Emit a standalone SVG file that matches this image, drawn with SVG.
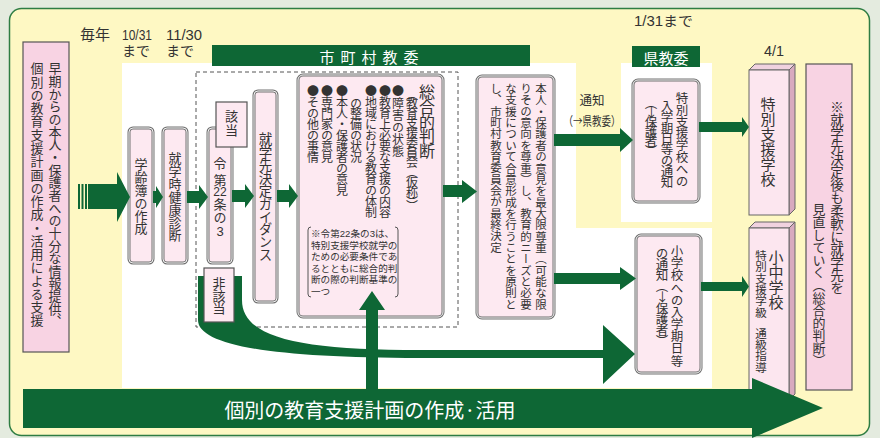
<svg xmlns="http://www.w3.org/2000/svg" width="880" height="438" viewBox="0 0 880 438">
<defs>
<style>
.v{writing-mode:vertical-rl;font-family:"Noto Sans CJK JP","Noto Sans",sans-serif;fill:#333}
.h{font-family:"Liberation Sans","Noto Sans CJK JP",sans-serif;fill:#333;dominant-baseline:central}
.w{font-family:"Noto Sans CJK JP","Noto Sans",sans-serif;fill:#fff;dominant-baseline:central;text-anchor:middle}
.g{fill:#0e6735}
.bx{fill:#fde9f1;stroke:#727272;stroke-width:3}
.bxi{fill:none;stroke:#fff;stroke-width:0.9}
.sq{fill:#fde9f1;stroke:#555;stroke-width:1.2}
.pk{fill:#f8d3e3;stroke:#555;stroke-width:1.2}
.fr{fill:#fce6ef;stroke:#666;stroke-width:1}
.sd{fill:#d8aabf;stroke:#666;stroke-width:1}
.tp{fill:#f0d2df;stroke:#666;stroke-width:1}
</style>
</defs>
<rect width="880" height="438" fill="#e4ebdf"/>
<rect x="9.5" y="8.5" width="860" height="427" rx="12" fill="#fef8c3" stroke="#2e7d43" stroke-width="1.5"/>
<g id="panels">
<rect x="122" y="63" width="454" height="325" fill="#fff"/>
<rect x="621" y="63" width="91" height="159" fill="#fff"/>
<rect x="560" y="228" width="152" height="160" fill="#fff"/>
<rect x="212" y="45" width="318" height="21" class="g"/>
<text class="w" x="372" y="56" font-size="15" letter-spacing="6">市町村教委</text>
<rect x="632" y="46" width="68" height="21" class="g"/>
<text class="w" x="666" y="57" font-size="15">県教委</text>
<text class="h" x="80" y="34" font-size="15">毎年</text>
<text class="h" font-size="14"><tspan x="122" y="34" font-size="15" textLength="30" lengthAdjust="spacingAndGlyphs">10/31</tspan><tspan x="122" y="51">まで</tspan></text>
<text class="h" font-size="14"><tspan x="166" y="34" font-size="15" textLength="36" lengthAdjust="spacingAndGlyphs">11/30</tspan><tspan x="166" y="51">まで</tspan></text>
<text class="h" x="634" y="21" font-size="14" textLength="59" lengthAdjust="spacingAndGlyphs">1/31まで</text>
<text class="h" x="764" y="50" font-size="15" textLength="20" lengthAdjust="spacingAndGlyphs">4/1</text>
<rect x="196" y="72" width="262" height="255" fill="none" stroke="#555" stroke-width="1" stroke-dasharray="4 3"/>
</g>
<g id="early">
<rect x="23" y="42" width="46" height="310" class="pk"/>
<text class="v" x="55" y="62" font-size="13" textLength="266">早期からの本人・保護者への十分な情報提供、</text>
<text class="v" x="37" y="62" font-size="13" textLength="265">個別の教育支援計画の作成・活用による支援</text>
</g>
<g id="gakureibo">
<rect x="129" y="128" width="24" height="135" rx="4" class="bx"/><rect x="129" y="128" width="24" height="135" rx="4" class="bxi"/>
<text class="v" x="141" y="158" font-size="13" textLength="77">学齢簿の作成</text>
</g>
<g id="kenko">
<rect x="163" y="128" width="24" height="135" rx="4" class="bx"/><rect x="163" y="128" width="24" height="135" rx="4" class="bxi"/>
<text class="v" x="175" y="152" font-size="13" textLength="90">就学時健康診断</text>
</g>
<g id="rei22">
<rect x="208" y="128" width="24" height="135" rx="4" class="bx"/><rect x="208" y="128" width="24" height="135" rx="4" class="bxi"/>
<text class="v" x="220" y="157" font-size="13" textLength="30">令第</text>
<text class="h" x="220" y="192" font-size="12" text-anchor="middle">22</text>
<text class="v" x="220" y="198" font-size="13" textLength="26">条の</text>
<text class="h" x="220" y="231" font-size="13" text-anchor="middle">3</text>
</g>
<g id="gaitou">
<rect x="216" y="102" width="31" height="45" class="sq"/>
<text class="v" x="231.5" y="110" font-size="13" textLength="27">該当</text>
</g>
<g id="guidance">
<rect x="254" y="91" width="23" height="211" rx="4" class="bx"/><rect x="254" y="91" width="23" height="211" rx="4" class="bxi"/>
<text class="v" x="265.5" y="132" font-size="13.5" textLength="130">就学先決定ガイダンス</text>
</g>
<g id="sogo">
<rect x="298" y="75" width="145" height="242" rx="5" class="bx"/><rect x="298" y="75" width="145" height="242" rx="5" class="bxi"/>
<text class="v" x="427" y="84" font-size="16" textLength="75">総合的判断</text>
<text class="v" x="412" y="88" font-size="12" textLength="124">（教育支援委員会（仮称））</text>
<text class="v" x="398" y="85" font-size="12" textLength="72">●障害の状態</text>
<text class="v" x="385" y="85" font-size="12" textLength="133">●教育上必要な支援の内容</text>
<text class="v" x="371" y="85" font-size="12" textLength="133">●地域における教育の体制</text>
<text class="v" x="356" y="97" font-size="12" textLength="66">の整備の状況</text>
<text class="v" x="342" y="85" font-size="12" textLength="111">●本人・保護者の意見</text>
<text class="v" x="327" y="85" font-size="12" textLength="78">●専門家の意見</text>
<text class="v" x="313" y="85" font-size="12" textLength="78">●その他の事情</text>
<path d="M311,227 q-3,0 -3,3 v64 q0,3 3,3 M395,227 q3,0 3,3 v64 q0,3 -3,3" fill="none" stroke="#555" stroke-width="1"/>
<text class="h" font-size="9.6"><tspan x="311" y="233">※令第22条の3は、</tspan><tspan x="311" y="244.5">特別支援学校就学の</tspan><tspan x="311" y="256">ための必要条件であ</tspan><tspan x="311" y="267.5">るとともに総合的判</tspan><tspan x="311" y="279">断の際の判断基準の</tspan><tspan x="311" y="290.5">一つ</tspan></text>
</g>
<g id="honnin">
<rect x="477" y="76" width="77" height="242" rx="5" class="bx"/><rect x="477" y="76" width="77" height="242" rx="5" class="bxi"/>
<text class="v" x="541" y="83" font-size="11.5" textLength="227">本人・保護者の意見を最大限尊重（可能な限</text>
<text class="v" x="526" y="83" font-size="11.5" textLength="227">りその意向を尊重）し、教育的ニーズと必要</text>
<text class="v" x="511" y="83" font-size="11.5" textLength="227">な支援について合意形成を行うことを原則と</text>
<text class="v" x="496" y="83" font-size="11.5" textLength="170">し、市町村教育委員会が最終決定</text>
</g>
<g id="tsuchi-tokubetsu">
<rect x="633" y="80" width="66" height="122" rx="5" class="bx"/><rect x="633" y="80" width="66" height="122" rx="5" class="bxi"/>
<text class="v" x="682" y="92" font-size="12.5" textLength="95">特別支援学校への</text>
<text class="v" x="667" y="100" font-size="12.5" textLength="88">入学期日等の通知</text>
<text class="v" x="651" y="97" font-size="12.5" textLength="60">（→保護者）</text>
</g>
<g id="tsuchi-shogakko">
<rect x="636" y="235" width="65" height="138" rx="5" class="bx"/><rect x="636" y="235" width="65" height="138" rx="5" class="bxi"/>
<text class="v" x="677" y="245" font-size="12.5" textLength="122">小学校への入学期日等</text>
<text class="v" x="662" y="247" font-size="12.5" textLength="100">の通知（→保護者）</text>
</g>
<g id="tokubetsu-shien-gakko">
<polygon points="749,70 755,64 795,64 789,70" class="tp"/>
<polygon points="789,70 795,64 795,209 789,215" class="sd"/>
<rect x="749" y="70" width="40" height="145" class="fr"/>
<text class="v" x="768" y="97" font-size="15" textLength="90">特別支援学校</text>
</g>
<g id="shochu-gakko">
<polygon points="749,228 755,222 795,222 789,228" class="tp"/>
<polygon points="789,228 795,222 795,394 789,400" class="sd"/>
<rect x="749" y="228" width="40" height="172" class="fr"/>
<text class="v" x="776" y="250" font-size="15" textLength="60">小中学校</text>
<text class="v" x="761" y="250" font-size="11.5" textLength="68">特別支援学級</text>
<text class="v" x="761" y="328" font-size="11.5" textLength="45">通級指導</text>
</g>
<g id="minaoshi">
<rect x="806" y="64" width="46" height="326" class="pk"/>
<text class="v" x="837" y="100" font-size="13.5" textLength="195">※就学先決定後も柔軟に就学先を</text>
<text class="v" x="819" y="203" font-size="13" textLength="164">見直していく（総合的判断）</text>
</g>
<g id="connectors" class="g">
<rect x="78" y="184" width="2" height="25"/><rect x="81.5" y="184" width="2" height="25"/><rect x="85" y="184" width="2" height="25"/>
<polygon points="88,184 117,184 117,172 130,197 117,222 117,209 88,209"/>
<polygon points="153,191 156,191 156,186 163,197 156,208 156,203 153,203"/>
<polygon points="187,191 199,191 199,185 208,197 199,209 199,203 187,203"/>
<polygon points="232,190 245,190 245,184 254,196 245,208 245,202 232,202"/>
<polygon points="277,190 289,190 289,184 298,196 289,208 289,202 277,202"/>
<polygon points="443,185 462,185 462,180 477,191.5 462,203 462,197 443,197"/>
<polygon points="554,134 620,134 620,128 633,140 620,152 620,146 554,146"/>
<polygon points="554,273 620,273 620,267 636,278.5 620,290 620,284 554,284"/>
<polygon points="699,122 742,122 742,117 749,127 742,137 742,132 699,132"/>
<polygon points="701,282 742,282 742,276 749,286.5 742,297 742,291 701,291"/>
<path d="M198,276 V320 C198,345 270,358 420,358 H603 V384 L635,354 L603,325 V350 H420 C300,350 242,338 242,300 V276 Z"/>
<polygon points="366,389 366,310 359,310 372,291 385,310 378,310 378,389"/>
<polygon points="23,389 752,389 752,378 823,408 752,438 752,428 23,428"/>
<text class="w" x="370" y="409" font-size="20">個別の教育支援計画の作成·活用</text>
<text class="h" font-size="12.5" text-anchor="middle"><tspan x="592" y="101">通知</tspan><tspan x="592" y="120" font-family="Noto Sans CJK JP, sans-serif" textLength="57" lengthAdjust="spacingAndGlyphs">（→県教委）</tspan></text>
</g>
<g id="hi-gaitou">
<rect x="204" y="268" width="30" height="54" class="sq"/>
<text class="v" x="219" y="277" font-size="13" textLength="38">非該当</text>
</g>
</svg>
